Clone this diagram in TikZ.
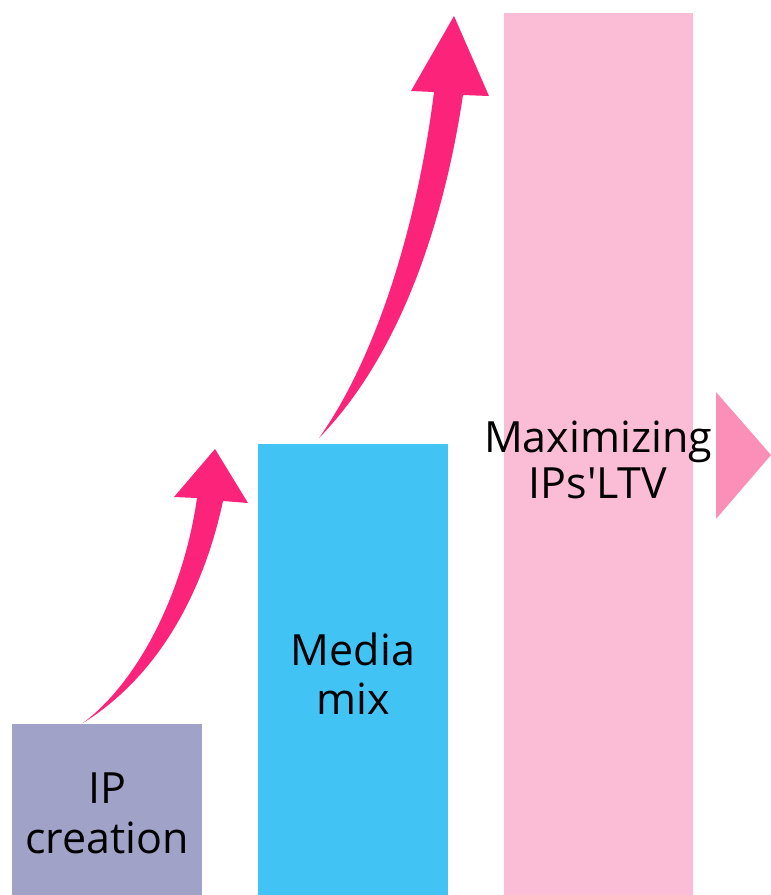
\documentclass[tikz,border=0pt]{standalone}
\usepackage{fontspec}
\setmainfont{Open Sans}
\definecolor{ipgray}{HTML}{A0A3C7}
\definecolor{mediablue}{HTML}{41C3F3}
\definecolor{ltvpink}{HTML}{FBBCD6}
\definecolor{nextpink}{HTML}{FC8FB8}
\definecolor{growth}{HTML}{FC237A}
\tikzset{
  bar/.style={draw=none, inner sep=0pt, outer sep=0pt, anchor=north west},
  lbl/.style={anchor=base, inner sep=0pt, font=\fontsize{43}{49}\selectfont, text=black},
  growarrow/.style={fill=growth, draw=none}
}
\begin{document}
\begin{tikzpicture}[x=1pt, y=-1pt]
  \useasboundingbox[fill=white] (0,0) rectangle (771,895);

  % three stages, rising from left to right
  \node[bar, fill=ipgray,    minimum width=190, minimum height=171] (ip)    at (12,724) {};
  \node[bar, fill=mediablue, minimum width=190, minimum height=451] (media) at (258,444) {};
  \node[bar, fill=ltvpink,   minimum width=189, minimum height=882] (ltv)   at (504,13) {};

  % stage labels
  \node[lbl] (ipA) at (107,803) {IP};
  \node[lbl] (ipB) at (107,853) {creation};
  \node[lbl] (mediaA) at (353,665) {Media};
  \node[lbl] (mediaB) at (353,714) {mix};
  \node[lbl] (ltvA) at (598,452) {Maximizing};
  \node[lbl] (ltvB) at (598,498) {IPs\textquotesingle LTV};

  % onward pointer
  \coordinate (tipL) at (716,392);
  \coordinate (tipB) at (716,519);
  \coordinate (tipR) at (771,455);
  \fill[nextpink] (tipL) -- (tipR) -- (tipB) -- cycle;

  % curved growth arrow: IP creation -> Media mix
  \coordinate (a1tail) at (83,723);
  \fill[growarrow] (a1tail)
     .. controls (140,680) and (184,590) .. (197,498)
     -- (174,497) -- (215,449) -- (248,503) -- (223,501)
     .. controls (204,590) and (160,675) .. (a1tail) -- cycle;

  % curved growth arrow: Media mix -> Maximizing IPs'LTV
  \coordinate (a2tail) at (319,438);
  \fill[growarrow] (a2tail)
     .. controls (378,355) and (418,220) .. (434,92)
     -- (411,91) -- (454,16) -- (489,96) -- (463,95)
     .. controls (442,235) and (395,360) .. (a2tail) -- cycle;
\end{tikzpicture}
\end{document}
